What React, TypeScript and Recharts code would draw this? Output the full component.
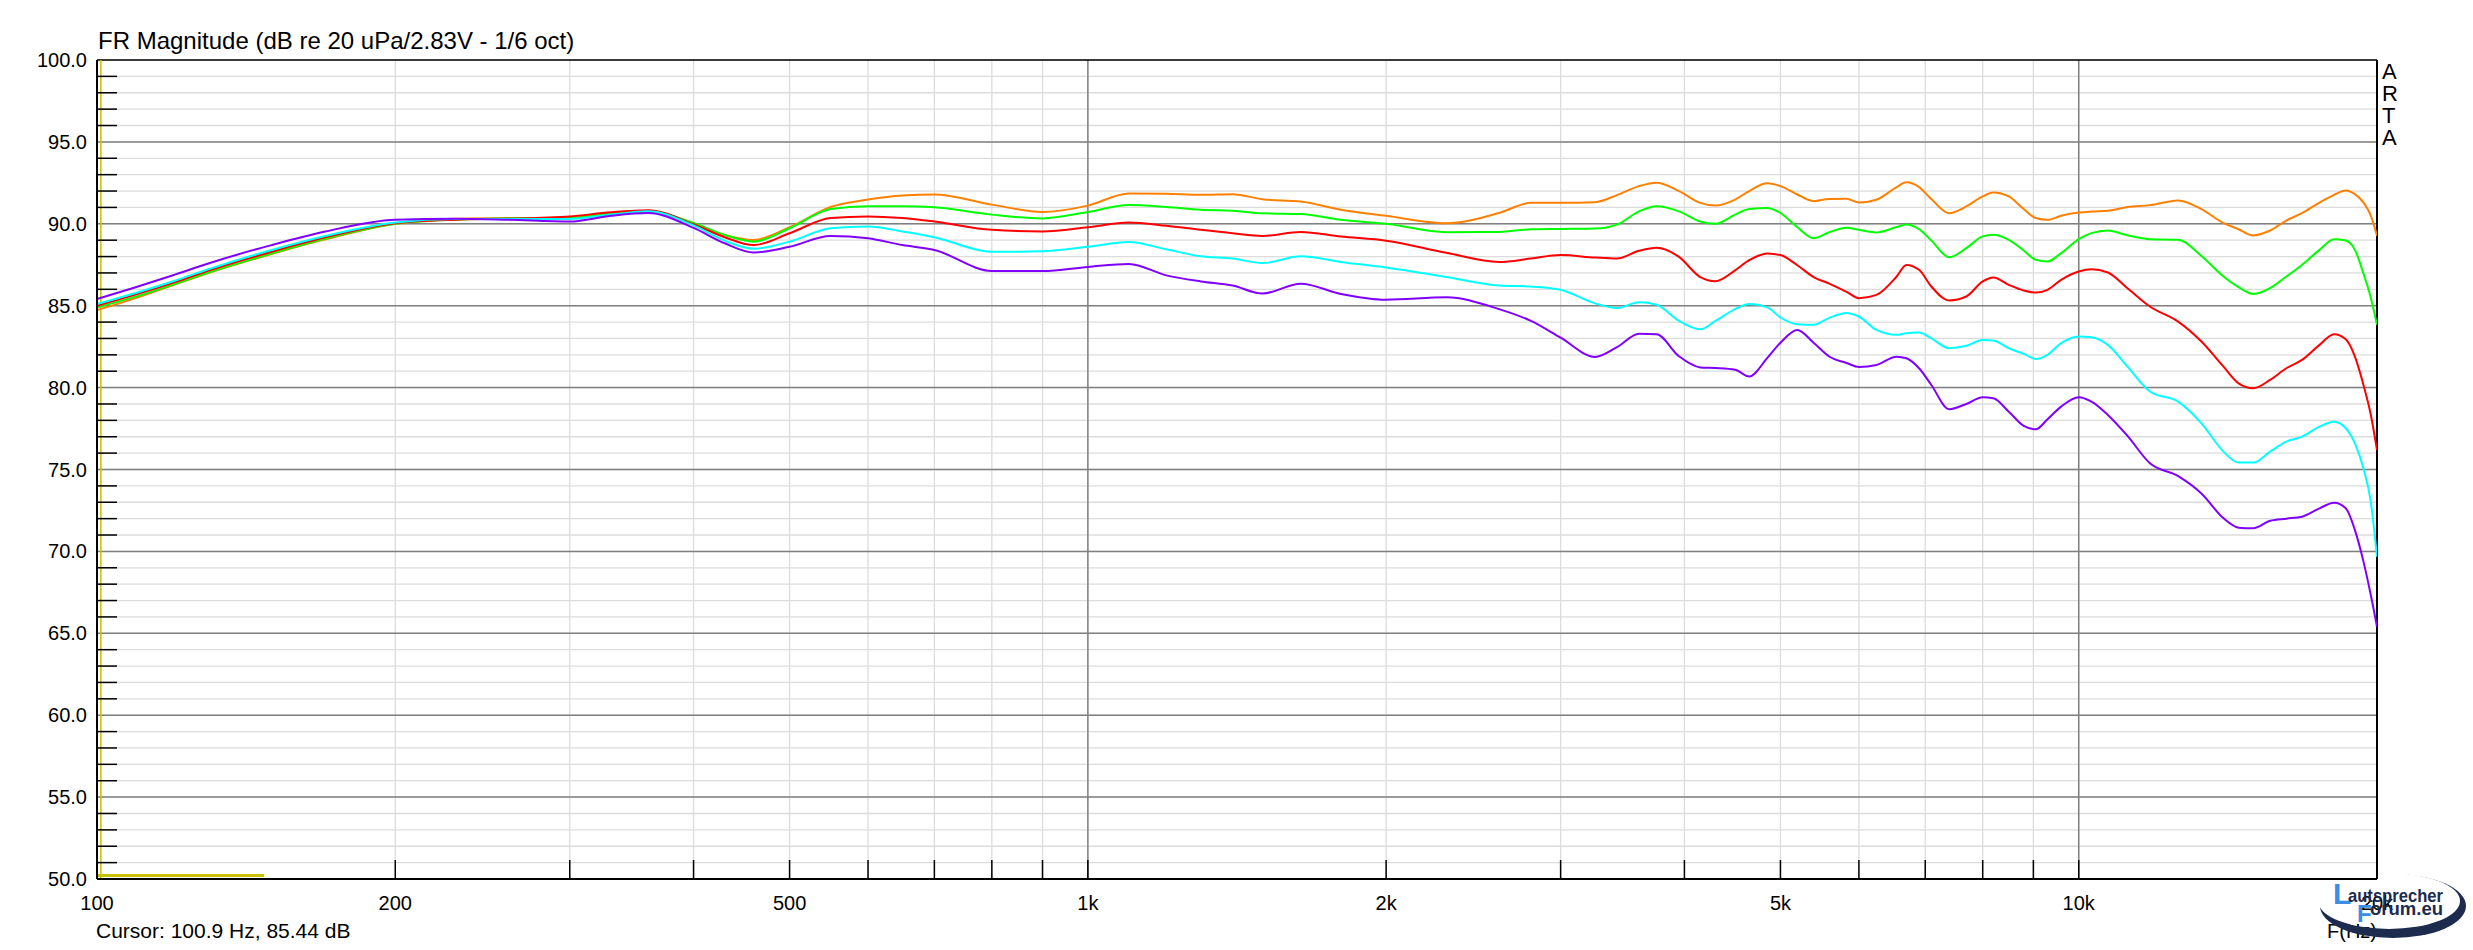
import React from "react";
import { CartesianGrid, Line, LineChart, ReferenceLine, XAxis, YAxis } from "recharts";

const W = 2473;
const H = 950;
const PLOT_LEFT = 97;
const PLOT_RIGHT = 2377;
const PLOT_TOP = 60;
const PLOT_BOTTOM = 879;

const font = "'Liberation Sans', Arial, sans-serif";

// frequency points (Hz) shared by all curves
const freqs = [
  100, 110, 120, 130, 150, 170, 200, 230, 260, 300,
  330, 360, 400, 430, 460, 500, 550, 600, 650, 700,
  800, 900, 1000, 1100, 1200, 1300, 1400, 1500, 1640, 1800,
  2000, 2300, 2600, 2800, 3000, 3250, 3420, 3600, 3750, 3950,
  4150, 4300, 4500, 4650, 4850, 5000, 5200, 5400, 5600, 5830,
  6000, 6250, 6550, 6700, 6900, 7100, 7400, 7700, 8000, 8200,
  8500, 8800, 9050, 9300, 9600, 10000, 10300, 10700, 11200, 11800,
  12600, 13300, 14000, 14500, 15000, 15600, 16200, 16800, 17500, 18100,
  18600, 19000, 19400, 19700, 20000,
];

const orange = [
  84.73, 85.51, 86.3, 87.02, 88.15, 89.05, 90.0, 90.31, 90.35, 90.39,
  90.66, 90.74, 90.0, 89.32, 89.01, 89.79, 91.03, 91.48, 91.73, 91.79,
  91.17, 90.72, 91.11, 91.85, 91.83, 91.77, 91.81, 91.5, 91.36, 90.86,
  90.49, 90.04, 90.66, 91.28, 91.28, 91.32, 91.75, 92.3, 92.51, 92.0,
  91.28, 91.11, 91.48, 92.0, 92.47, 92.3, 91.79, 91.38, 91.52, 91.53,
  91.3, 91.47, 92.24, 92.53, 92.24, 91.51, 90.65, 91.06, 91.67, 91.91,
  91.67, 90.9, 90.35, 90.24, 90.49, 90.69, 90.75, 90.79, 91.02, 91.14,
  91.43, 90.9, 90.04, 89.67, 89.29, 89.59, 90.2, 90.65, 91.3, 91.77,
  92.04, 91.81, 91.26, 90.55, 89.27,
];

const green = [
  84.9, 85.6, 86.34, 87.06, 88.19, 89.1, 90.0, 90.25, 90.33, 90.35,
  90.62, 90.76, 90.05, 89.32, 88.91, 89.73, 90.9, 91.07, 91.07, 91.01,
  90.56, 90.33, 90.72, 91.15, 91.03, 90.86, 90.8, 90.64, 90.6, 90.25,
  90.0, 89.49, 89.5, 89.67, 89.69, 89.71, 89.95, 90.76, 91.07, 90.76,
  90.14, 90.0, 90.56, 90.9, 90.97, 90.66, 89.79, 89.12, 89.48, 89.76,
  89.63, 89.47, 89.8, 89.96, 89.67, 88.98, 87.96, 88.51, 89.23, 89.33,
  89.02, 88.37, 87.8, 87.7, 88.21, 89.06, 89.43, 89.59, 89.3, 89.06,
  89.02, 88.04, 86.78, 86.13, 85.72, 86.07, 86.78, 87.49, 88.41, 89.06,
  88.98, 88.41, 86.88, 85.56, 83.83,
];

const red = [
  85.0, 85.72, 86.44, 87.16, 88.29, 89.18, 90.04, 90.25, 90.31, 90.45,
  90.7, 90.82, 89.97, 89.18, 88.7, 89.42, 90.35, 90.45, 90.35, 90.14,
  89.63, 89.53, 89.79, 90.08, 89.88, 89.63, 89.42, 89.26, 89.5, 89.22,
  88.97, 88.23, 87.67, 87.88, 88.09, 87.94, 87.88, 88.35, 88.54, 87.98,
  86.75, 86.5, 87.16, 87.78, 88.19, 88.09, 87.47, 86.75, 86.35, 85.85,
  85.46, 85.66, 86.78, 87.49, 87.19, 86.17, 85.32, 85.56, 86.48, 86.72,
  86.27, 85.93, 85.8, 85.97, 86.58, 87.09, 87.23, 87.03, 86.07, 84.95,
  84.03, 82.81, 81.28, 80.26, 79.96, 80.47, 81.18, 81.69, 82.61, 83.26,
  82.95, 81.89, 80.06, 78.43, 76.19,
];

const cyan = [
  85.1, 85.82, 86.54, 87.26, 88.4, 89.26, 90.08, 90.29, 90.29, 90.29,
  90.56, 90.76, 89.9, 88.97, 88.48, 88.91, 89.73, 89.84, 89.53, 89.18,
  88.29, 88.33, 88.6, 88.89, 88.44, 88.02, 87.88, 87.6, 88.02, 87.67,
  87.33, 86.75, 86.23, 86.17, 85.97, 85.14, 84.86, 85.21, 85.06, 84.07,
  83.56, 84.07, 84.79, 85.1, 84.9, 84.28, 83.87, 83.83, 84.26, 84.56,
  84.34, 83.52, 83.22, 83.32, 83.36, 83.01, 82.4, 82.55, 82.91, 82.87,
  82.4, 82.06, 81.75, 82.0, 82.71, 83.12, 83.08, 82.61, 81.28, 79.76,
  79.14, 77.82, 76.09, 75.42, 75.42, 76.09, 76.7, 77.01, 77.62, 77.92,
  77.52, 76.6, 74.97, 73.14, 69.67,
];

const purple = [
  85.41, 86.17, 86.91, 87.61, 88.7, 89.53, 90.25, 90.31, 90.25, 90.14,
  90.49, 90.66, 89.75, 88.81, 88.25, 88.6, 89.26, 89.12, 88.7, 88.4,
  87.12, 87.12, 87.37, 87.55, 86.85, 86.48, 86.23, 85.74, 86.34, 85.72,
  85.37, 85.51, 84.79, 84.07, 83.05, 81.87, 82.47, 83.29, 83.25, 81.91,
  81.23, 81.19, 81.09, 80.68, 81.81, 82.74, 83.52, 82.74, 81.9, 81.5,
  81.26, 81.38, 81.89, 81.79, 81.18, 80.16, 78.68, 79.0, 79.41, 79.35,
  78.53, 77.66, 77.45, 78.07, 78.84, 79.41, 79.14, 78.33, 77.05, 75.38,
  74.6, 73.54, 72.02, 71.45, 71.41, 71.87, 72.0, 72.12, 72.63, 72.97,
  72.63, 71.3, 69.27, 67.43, 65.4,
];

const series = [
  { key: "orange", values: orange, color: "#ff8000" },
  { key: "green", values: green, color: "#00ff00" },
  { key: "red", values: red, color: "#ff0000" },
  { key: "cyan", values: cyan, color: "#00ffff" },
  { key: "purple", values: purple, color: "#8000ff" },
];

const xTicks = [
  100, 200, 300, 400, 500, 600, 700, 800, 900,
  1000, 2000, 3000, 4000, 5000, 6000, 7000, 8000, 9000,
  10000, 20000,
];
const xLabels: Record<number, string> = {
  100: "100", 200: "200", 500: "500", 1000: "1k", 2000: "2k",
  5000: "5k", 10000: "10k", 20000: "20k",
};
const yTicks = Array.from({ length: 51 }, (_, i) => 50 + i);
const yMajor = [55, 60, 65, 70, 75, 80, 85, 90, 95];
const xMajor = [1000, 10000];

const cursorFreq = 100.9;
const cursorDb = 85.44;
const cursorBar = { from: 100, to: 147.5, level: 50.22 };

const data = freqs.map((f, i) => {
  const row: Record<string, number> = { f };
  series.forEach((s) => (row[s.key] = s.values[i]));
  return row;
});

const XTick = (props: any) => {
  const { x, payload } = props;
  const v = payload.value;
  const label = xLabels[v];
  const edge = v === 100 || v === 20000;
  return (
    <g>
      {!edge && <line x1={x} x2={x} y1={PLOT_BOTTOM} y2={PLOT_BOTTOM - 19} stroke="#000" strokeWidth={1.5} />}
      {label && (
        <text x={x} y={910} textAnchor="middle" fontFamily={font} fontSize={20} fill="#000">
          {label}
        </text>
      )}
    </g>
  );
};

const YTick = (props: any) => {
  const { y, payload } = props;
  const v = payload.value;
  const edge = v === 50 || v === 100;
  return (
    <g>
      {!edge && v % 5 !== 0 && (
        <line x1={PLOT_LEFT} x2={PLOT_LEFT + 20} y1={y} y2={y} stroke="#000" strokeWidth={1.5} />
      )}
      {v % 5 === 0 && (
        <text x={87} y={y + 7} textAnchor="end" fontFamily={font} fontSize={20} fill="#000">
          {v.toFixed(1)}
        </text>
      )}
    </g>
  );
};

const Overlay = () => (
  <svg width={W} height={H} style={{ position: "absolute", left: 0, top: 0, pointerEvents: "none" }}>
    <text x={98} y={49} fontFamily={font} fontSize={24} fill="#000">
      FR Magnitude (dB re 20 uPa/2.83V - 1/6 oct)
    </text>
    {["A", "R", "T", "A"].map((c, i) => (
      <text key={i} x={2382} y={79 + i * 22} fontFamily={font} fontSize={22} fill="#000">
        {c}
      </text>
    ))}
    <text x={96} y={938} fontFamily={font} fontSize={21} fill="#000">
      {`Cursor: ${cursorFreq} Hz, ${cursorDb} dB`}
    </text>
    <text x={2327} y={938} fontFamily={font} fontSize={20} fill="#000">
      F(Hz)
    </text>
    <defs>
      <mask id="swoosh">
        <rect x={2300} y={850} width={173} height={100} fill="#fff" />
        <ellipse cx={2389} cy={901} rx={71} ry={28} fill="#000" />
      </mask>
    </defs>
    <ellipse cx={2393} cy={906} rx={73} ry={32} fill="#1c2b4e" mask="url(#swoosh)" />
    <text x={2333} y={904} fontFamily={font} fontWeight="bold" fontSize={30} fill="#3a8ee6">
      L
    </text>
    <text x={2348} y={902} fontFamily={font} fontWeight="bold" fontSize={19} fill="#1c2b4e" textLength={95} lengthAdjust="spacingAndGlyphs">
      autsprecher
    </text>
    <text x={2357} y={922} fontFamily={font} fontWeight="bold" fontSize={24} fill="#3a8ee6">
      F
    </text>
    <text x={2370} y={915} fontFamily={font} fontWeight="bold" fontSize={19} fill="#1c2b4e" textLength={73} lengthAdjust="spacingAndGlyphs">
      orum.eu
    </text>
  </svg>
);

export default function App() {
  return (
    <div style={{ position: "absolute", left: 0, top: 0, width: W, height: H, background: "#fff" }}>
      <LineChart
        width={W}
        height={H}
        data={data}
        margin={{ top: PLOT_TOP, right: W - PLOT_RIGHT, bottom: 0, left: 0 }}
      >
        <CartesianGrid stroke="#dcdcdc" strokeWidth={1.3} />
        <XAxis
          dataKey="f"
          type="number"
          scale="log"
          domain={[100, 20000]}
          allowDataOverflow
          ticks={xTicks}
          interval={0}
          height={H - PLOT_BOTTOM}
          tickLine={false}
          axisLine={{ stroke: "#000", strokeWidth: 2 }}
          tick={(p: any) => <XTick {...p} />}
        />
        <YAxis
          type="number"
          domain={[50, 100]}
          ticks={yTicks}
          interval={0}
          width={PLOT_LEFT}
          tickLine={false}
          axisLine={{ stroke: "#000", strokeWidth: 2 }}
          tick={(p: any) => <YTick {...p} />}
        />
        {yMajor.map((v) => (
          <ReferenceLine key={`y${v}`} y={v} stroke="#808080" strokeWidth={1.5} />
        ))}
        {xMajor.map((v) => (
          <ReferenceLine key={`x${v}`} x={v} stroke="#808080" strokeWidth={1.5} />
        ))}
        <ReferenceLine y={100} stroke="#000" strokeWidth={1.5} />
        <ReferenceLine x={20000} stroke="#000" strokeWidth={2} />
        <ReferenceLine x={cursorFreq} stroke="#c8c000" strokeWidth={1.5} />
        <ReferenceLine
          segment={[
            { x: cursorBar.from, y: cursorBar.level },
            { x: cursorBar.to, y: cursorBar.level },
          ]}
          stroke="#c8c000"
          strokeWidth={3}
        />
        {series.map((s) => (
          <Line
            key={s.key}
            dataKey={s.key}
            type="monotone"
            stroke={s.color}
            strokeWidth={2}
            dot={false}
            isAnimationActive={false}
          />
        ))}
      </LineChart>
      <Overlay />
    </div>
  );
}
